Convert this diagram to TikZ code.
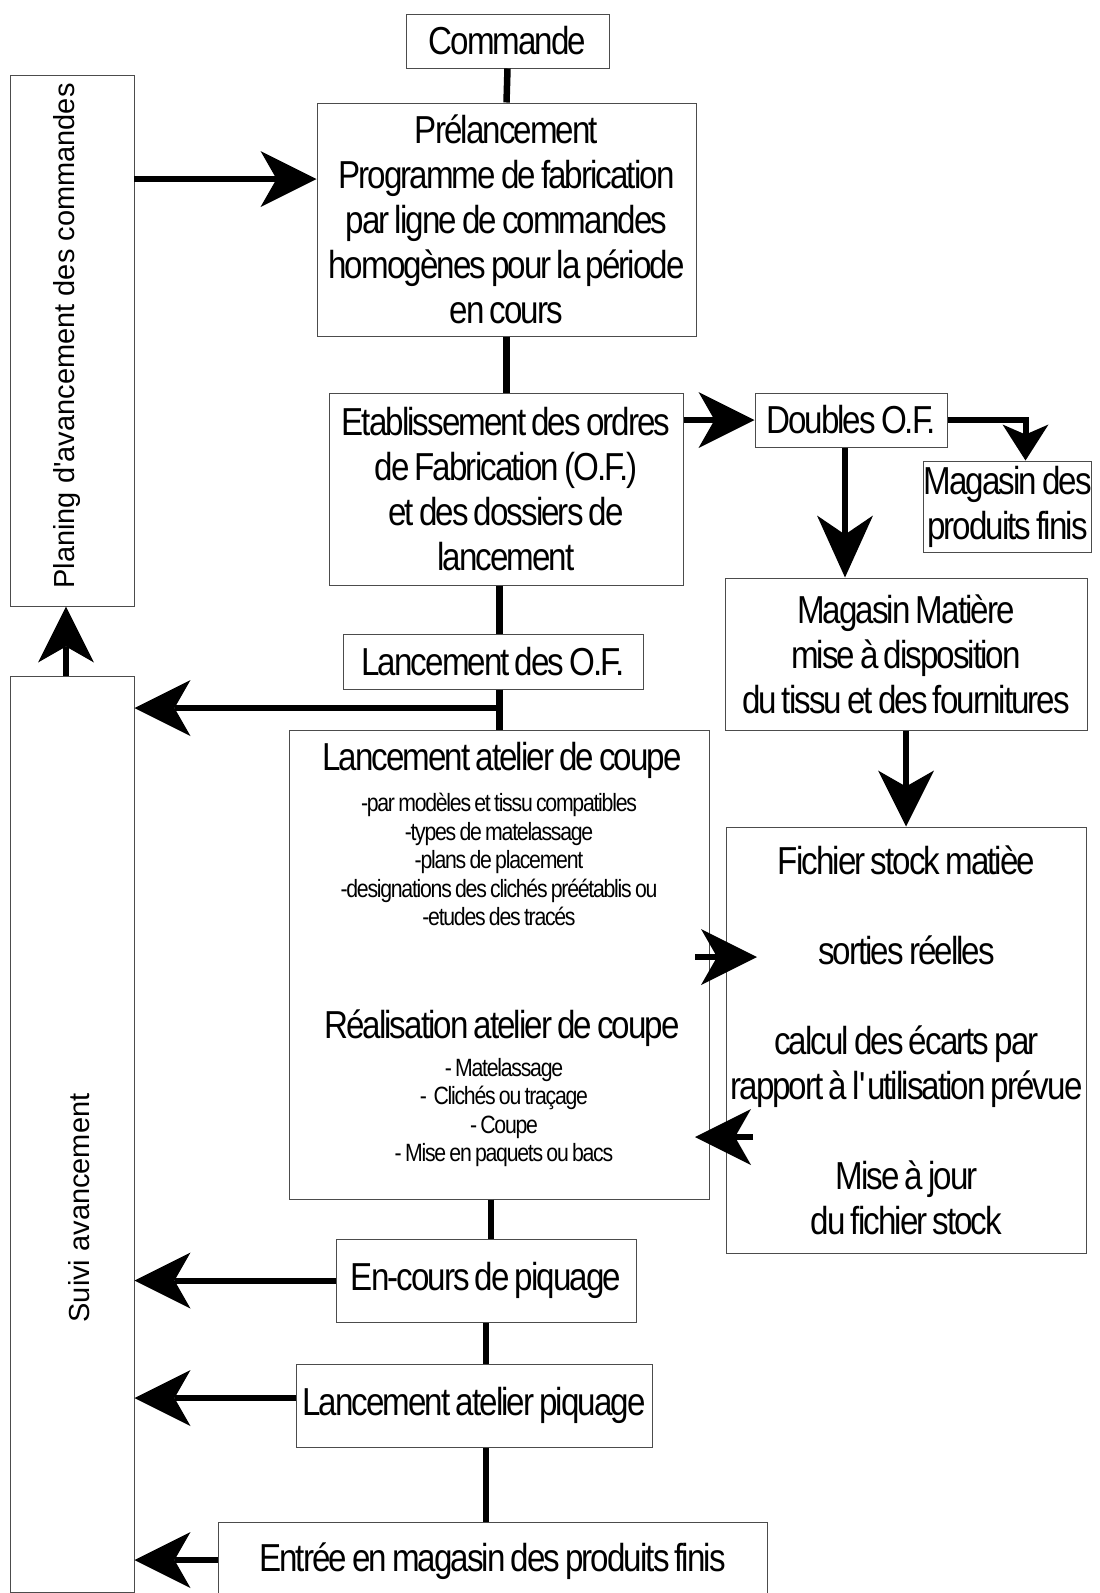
\documentclass[tikz,border=0pt]{standalone}
\usepackage{fontspec}
\setmainfont{Liberation Sans}[FakeStretch=0.85,LetterSpace=-5,WordSpace=0.7]
\newfontfamily\plainsans{Liberation Sans}
\usetikzlibrary{arrows.meta}
\newcommand\FBig{\fontsize{39}{45}\selectfont}
\newcommand\FSmall{\fontsize{25}{28.5}\selectfont}
\newcommand\FVert{\plainsans\fontsize{29}{34}\selectfont}
\begin{document}
\begin{tikzpicture}[x=1pt,y=-1pt,
  box/.style={draw=black!70, line width=1pt, inner sep=0pt, align=center, font=\FBig},
  txt/.style={inner sep=0pt, align=center},
  conn/.style={line width=6.5pt},
  arr/.style={line width=6pt, -{Stealth[length=56pt,width=56pt,inset=16pt,line width=0pt]}},
  arrL/.style={line width=6pt, -{Stealth[length=62pt,width=56pt,inset=19pt,line width=0pt]}},
  arrS/.style={line width=6pt, -{Stealth[length=36pt,width=46pt,inset=10pt,line width=0pt]}}]
\useasboundingbox (0,0) rectangle (1100,1593);
\clip (0,0) rectangle (1100,1593);
% boxes
\node[box, minimum width=203, minimum height=54] (cmd) at (507.5,41) {Commande};
\node[box, minimum width=124, minimum height=531] (plan) at (72,340.5) {};
\node[txt, rotate=90, font=\FVert] (planT) at (67,336) {Planing d\textquotesingle avancement des commandes};
\node[box, minimum width=379, minimum height=233] (pre) at (506.5,219.5)
  {Prélancement\\Programme de fabrication\\par ligne de commandes\\homogènes pour la période\\en cours};
\node[box, minimum width=354, minimum height=192] (etab) at (506,489)
  {Etablissement des ordres\\de Fabrication (O.F.)\\et des dossiers de\\lancement};
\node[box, minimum width=192, minimum height=54] (dof) at (851,420) {Doubles O.F.};
\node[box, minimum width=165, minimum height=91] (mpf) at (1007.5,506.5) {Magasin des\\produits finis};
\node[box, minimum width=362, minimum height=152] (mm) at (906,654)
  {Magasin Matière\\mise à disposition\\du tissu et des fournitures};
\node[box, minimum width=300, minimum height=55] (lof) at (493,661.5) {Lancement des O.F.};
\node[box, minimum width=124, minimum height=916] (suivi) at (72,1134) {};
\node[txt, rotate=90, font=\FVert] (suiviT) at (79,1208) {Suivi avancement};
\node[box, minimum width=420, minimum height=469] (cut) at (499.5,964.5) {};
\node[txt, font=\FBig] (cutT1) at (502,760) {Lancement atelier de coupe};
\node[txt, font=\FSmall] (cutL1) at (499,859.5)
  {-par modèles et tissu compatibles\\-types de matelassage\\-plans de placement\\-designations des clichés préétablis ou\\-etudes des tracés};
\node[txt, font=\FBig] (cutT2) at (502,1028) {Réalisation atelier de coupe};
\node[txt, font=\FSmall] (cutL2) at (504,1112.5)
  {- Matelassage\\- \ Clichés ou traçage\\- Coupe\\- Mise en paquets ou bacs};
\node[box, minimum width=360, minimum height=426] (fic) at (906.5,1040)
  {Fichier stock matièe\\ \\sorties réelles\\ \\calcul des écarts par\\rapport à l\textquotesingle utilisation prévue\\ \\Mise à jour\\du fichier stock};
\node[box, minimum width=300, minimum height=83] (enc) at (486,1280.5) {En-cours de piquage};
\node[box, minimum width=356, minimum height=83] (lp) at (474,1405.5) {Lancement atelier piquage};
\node[box, minimum width=549, minimum height=78] (ent) at (492.5,1561) {Entrée en magasin des produits finis};
% helper coordinates
\coordinate (a1) at (134,179);
\coordinate (jn) at (499,708);
\coordinate (upx) at (66,0);
\coordinate (sIn) at (695,957);
\coordinate (sInT) at (757,957);
\coordinate (sOut) at (753,1137);
\coordinate (sOutT) at (695,1137);
% connectors
\draw[conn] (cmd.south) -- (pre.north);
\draw[arr] (a1) -- (a1 -| pre.west);
\draw[conn] (pre.south) -- (pre.south |- etab.north);
\draw[arr] (dof.west -| etab.east) -- (dof.west);
\draw[arrS] (dof.east) -| ([xshift=18]mpf.north);
\draw[arrL] ([xshift=-6]dof.south) -- ([xshift=-6]dof.south |- mm.north);
\draw[arr] (mm.south) -- (mm.south |- fic.north);
\draw[conn] (etab.south -| cut.north) -- (lof.north -| cut.north);
\draw[conn] (lof.south -| cut.north) -- (cut.north);
\draw[arr] (jn) -- (jn -| suivi.east);
\draw[arr] (sIn) -- (sInT);
\draw[arr] (sOut) -- (sOutT);
\draw[conn] ([xshift=5]cut.south -| enc.north) -- ([xshift=5]enc.north);
\draw[conn] (enc.south) -- (enc.south |- lp.north);
\draw[conn] (enc.south |- lp.south) -- (enc.south |- ent.north);
\draw[arr] (enc.west) -- (enc.west -| suivi.east);
\draw[arr] ([yshift=7.5]lp.west) -- ([yshift=7.5]lp.west -| suivi.east);
\draw[arr] ([yshift=1]ent.west) -- ([yshift=1]ent.west -| suivi.east);
\draw[arr] (upx |- suivi.north) -- (upx |- plan.south);
\end{tikzpicture}
\end{document}
